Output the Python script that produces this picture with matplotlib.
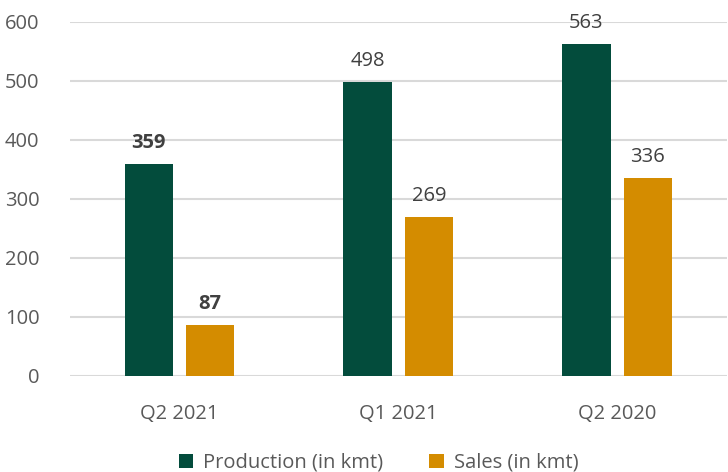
import matplotlib.pyplot as plt
import numpy as np

plt.rcParams['font.family'] = ['Open Sans', 'DejaVu Sans']

# data
categories = ['Q2 2021', 'Q1 2021', 'Q2 2020']
production = [359, 498, 563]
sales = [87, 269, 336]
bold_labels = [True, False, False]

green = '#034C3C'
orange = '#D48C00'
text_col = '#595959'
label_col = '#404040'

fig = plt.figure(figsize=(7.28, 4.72), dpi=100)
ax = fig.add_axes([0.096, 0.2034, 0.902, 0.75])

x = np.arange(len(categories))
w = 0.22
off = 0.14
b1 = ax.bar(x - off, production, w, color=green, label='Production (in kmt)', zorder=3)
b2 = ax.bar(x + off, sales, w, color=orange, label='Sales (in kmt)', zorder=3)

for bars, vals in ((b1, production), (b2, sales)):
    for i, (rect, v) in enumerate(zip(bars, vals)):
        ax.annotate(str(v), (rect.get_x() + rect.get_width() / 2, v),
                    xytext=(0, 8), textcoords='offset points',
                    ha='center', va='bottom', fontsize=14.5, color=label_col,
                    fontweight='bold' if bold_labels[i] else 'normal')

ax.set_xlim(-0.5, len(categories) - 0.5)
ax.set_ylim(0, 600)
ax.set_yticks(range(0, 601, 100))
ax.set_xticks(x)
ax.set_xticklabels(categories)
ax.tick_params(axis='both', length=0, labelsize=14.5, labelcolor=text_col)
ax.tick_params(axis='x', pad=20)
ax.tick_params(axis='y', pad=22)
ax.yaxis.grid(True, color='#D9D9D9', linewidth=1.5, zorder=0)
for s in ax.spines.values():
    s.set_visible(False)

fig.legend(loc='lower center', bbox_to_anchor=(0.52, -0.04), ncol=2, frameon=False,
           fontsize=14.5, labelcolor=text_col, handlelength=0.7, handleheight=0.7,
           handletextpad=0.5, columnspacing=2.3)

fig.savefig('out.png', dpi=100)
